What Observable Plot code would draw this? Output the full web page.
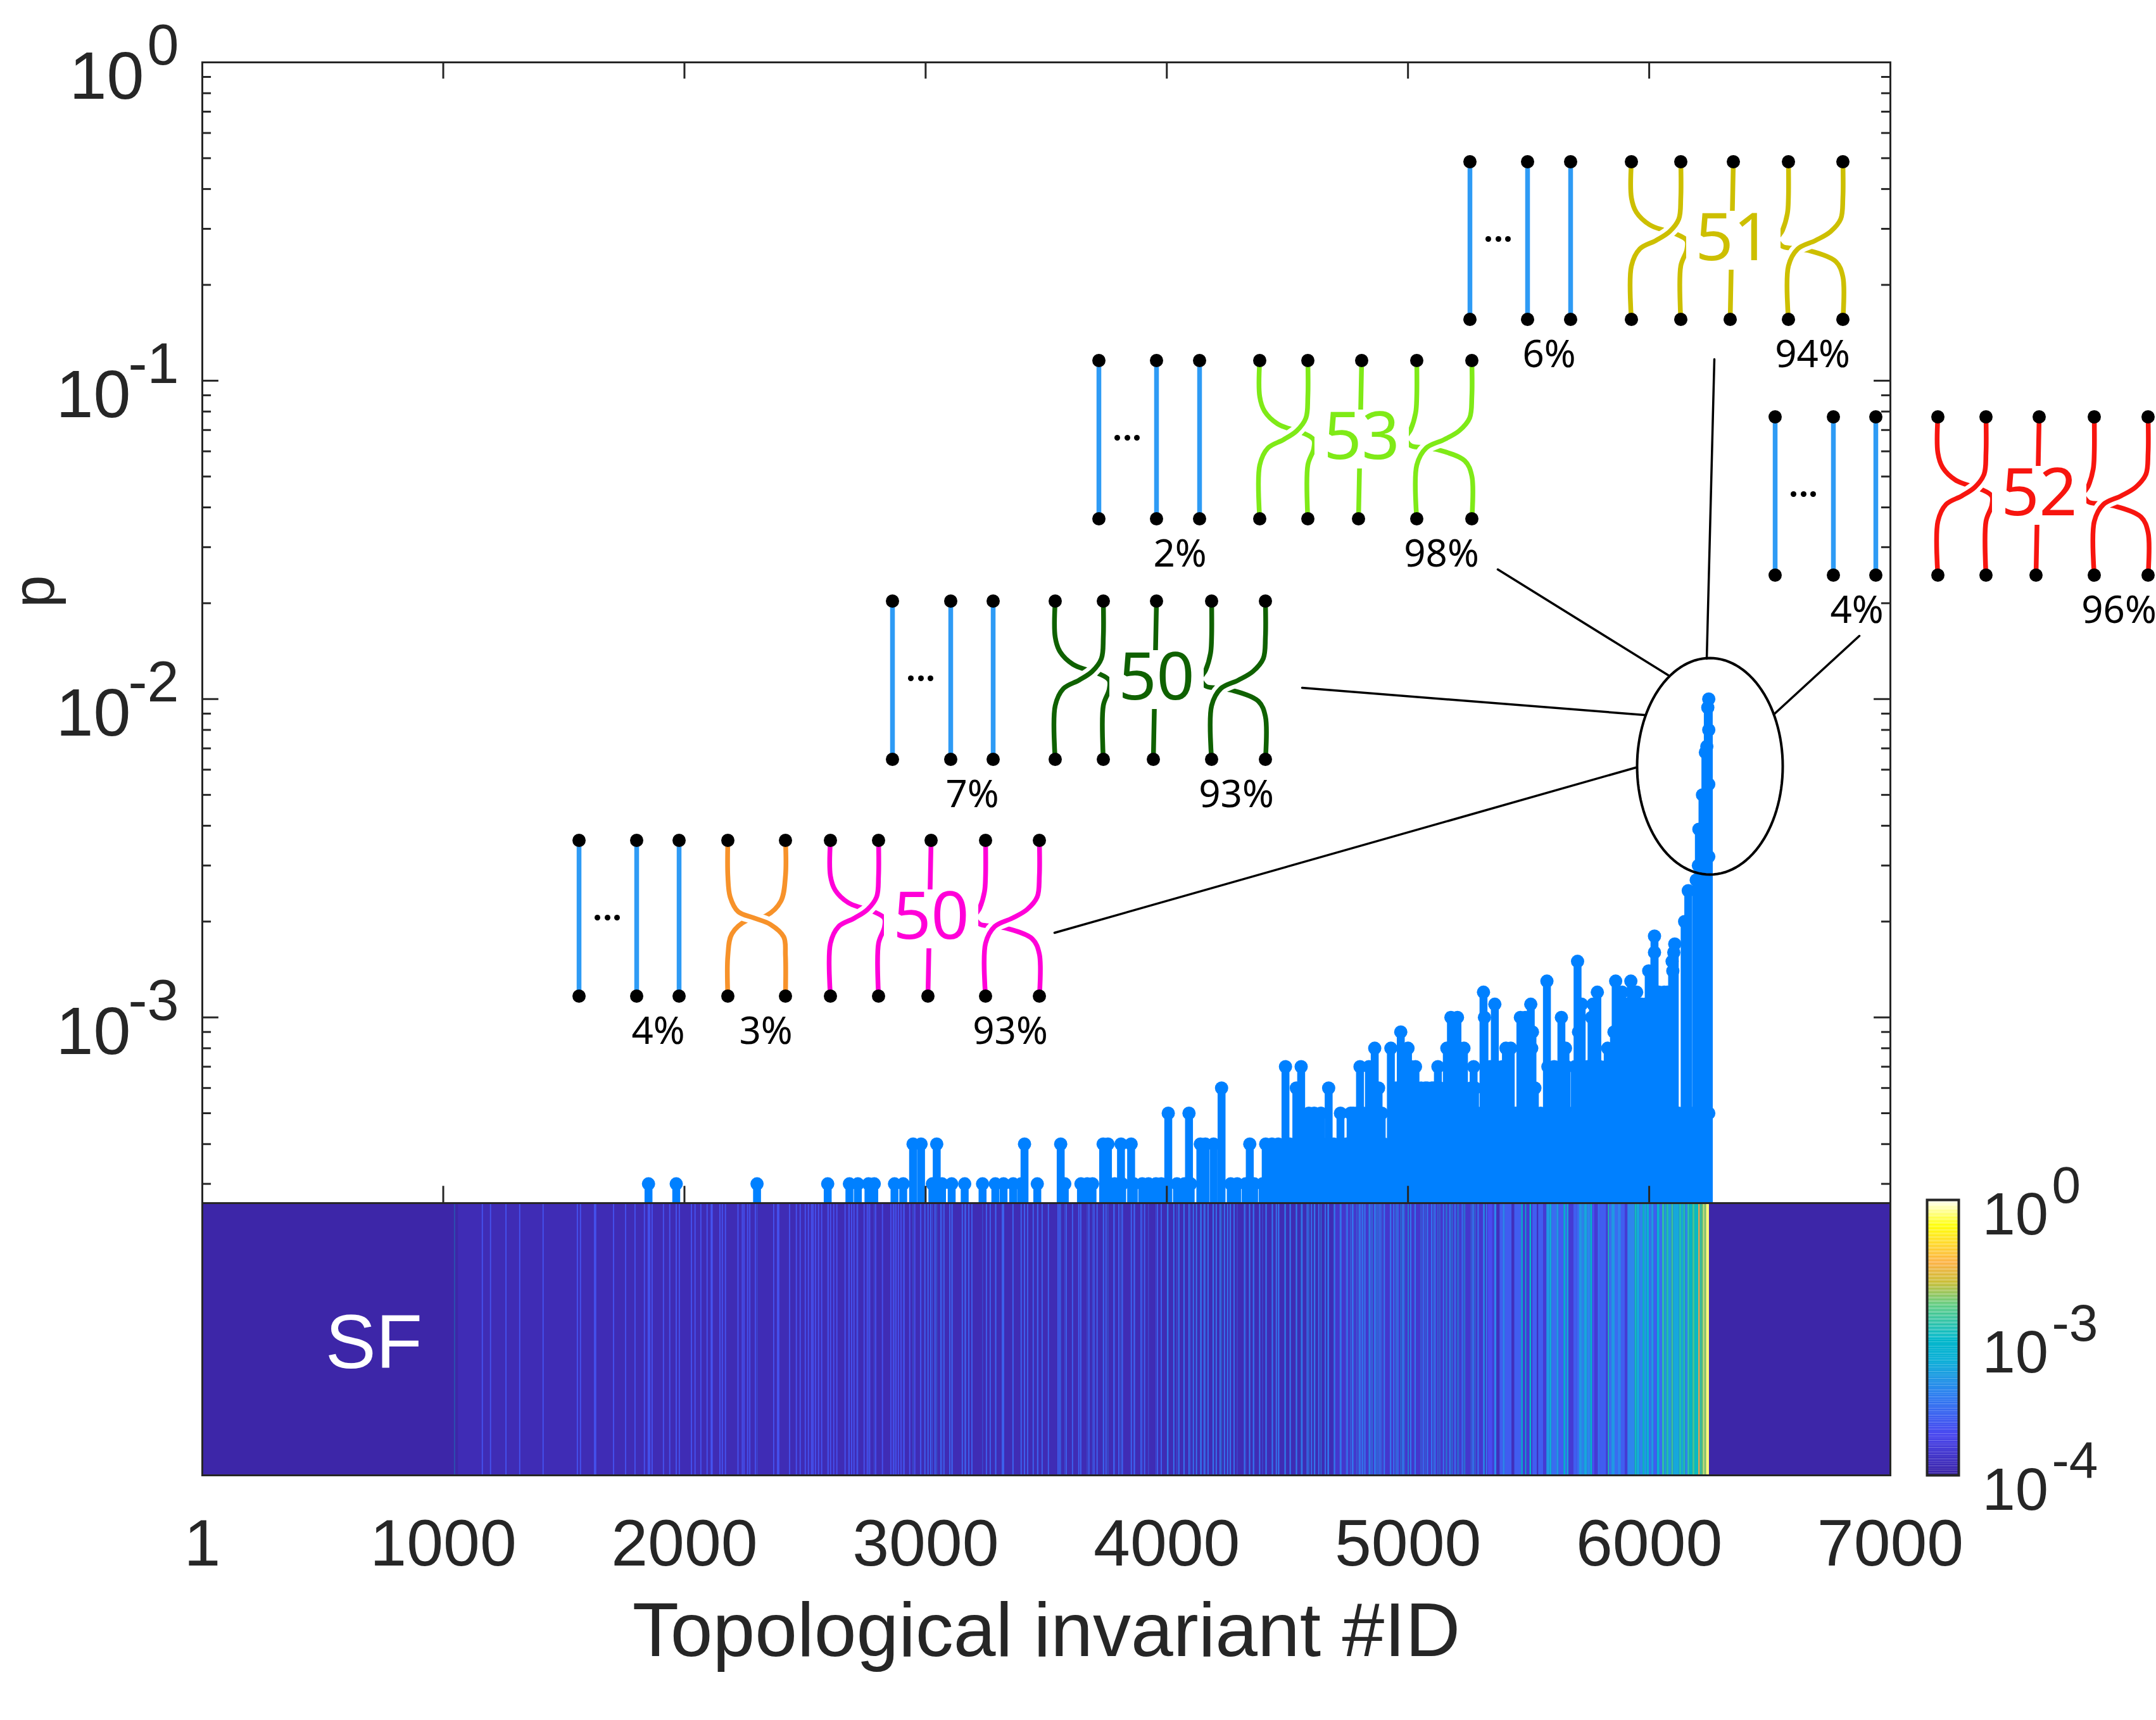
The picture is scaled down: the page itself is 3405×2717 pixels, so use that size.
<!DOCTYPE html>
<html>
<head>
<meta charset="utf-8">
<script src="https://cdn.jsdelivr.net/npm/d3@7"></script>
<script src="https://cdn.jsdelivr.net/npm/@observablehq/plot@0.6"></script>
<style>
  body { margin: 0; background: #fff; }
  #chart { position: relative; width: 3405px; height: 2717px; overflow: hidden; }
  #chart svg { position: absolute; left: 0; max-width: none; background: transparent; }
</style>
</head>
<body>
<div id="chart"></div>
<script>
// stems: invariant ids per probability level, p = level * 1e-4
const ids3 = [1851,1966,2301,2594,2684,2719,2763,2787,2871,2907,3028,3068,3108,3162,3236,3289,3323,3363,3396,3463,3577,3644,3670,3692,3784,3815,3863,3898,3924,3955,3977,4042,4073,4099,4265,4292,4327,4362,4397];
const ids4 = [2948,2981,3046,3410,3560,3736,3756,3810,3852,4139,4160,4194,4344,4410,4436,4462,4490,4510,4536,4562,4588,4614,4640,4666,4692,4718,4744,4770,4796,4822,4848,4874,4900,4926,4952];
const ids5 = [4006,4092,4589,4611,4639,4720,4762,4773,4788,4799,4814,4840,4866,4869,4891,5290,5316,5342,5368,5394,5420,5446,5472,5498,5524,5550,5576,5602,5628,5654,5680,5706,5732,5758,5784,5810,5836,5862,5888,5914,5940,5966,5992,6018,6044,6070,6096,6122,6148,6174,6200,6226,6247];
const ids6 = [4227,4537,4671,4852,4878,4950,4976,5002,5028,5054,5071,5080,5098,5106,5132,5158,5184,5210,5236,5262,5278,5526];
const ids7 = [4492,4557,4801,4838,4985,5012,5031,5124,5272,5340,5366,5392,5580,5606,5632,5653,5658,5692,5718,5744,5770,5796,5822,5848,5874];
const ids8 = [4862,4929,5000,5161,5232,5406,5426,5513,5653,5828];
const ids9 = [4970,5516,5707,5854];
const ids10 = [5178,5205,5317,5466,5486,5636,5761];
const ids11 = [5360,5509,5720,5767,5908,5934,5960,5968,5986,6012];
const ids12 = [5313,5785,5888,5948,6040,6062,6075];
const ids13 = [5576,5861,5924];
const ids14 = [5998,6098];
const ids15 = [5703,6095];
const ids16 = [6022,6102];
const ids17 = [6106];
const ids18 = [6022];
const spireIds = [6147,6162,6195,6204,6206,6221,6233,6239,6243,6247,6247,6247,6247];
const spireLevels = [20,25,27,30,39,50,68,71,94,100,80,54,32];

const faintIds = [1162,1196,1260,1317,1414,1556,1569,1627,1632,1706,1756,1795,1834,1850,1856,1866,1913,1939,1966,1979,2029,2044,2068,2094,2111,2115,2147,2157,2170,2222,2240,2247,2262,2271,2294,2370,2386,2391,2436,2464,2480,2501,2514,2527,2533,2543,2556,2569,2596,2606,2619,2632,2666,2682,2693,2703,2716,2745,2758,2768,2793,2821,2856,2866,2877,2887,2898,2911,2934,2955,2979];
const mediumIds = [2997,3010,3021,3039,3063,3076,3100,3110,3152,3165,3179,3192,3252,3268,3291,3318,3323,3362,3396,3410,3423,3446,3465,3483,3509,3549,3556,3583,3609,3635,3643,3677,3698,3711,3738,3748,3780,3801,3816,3853,3866,3893,3908,3961,3977];
const brightIds = [4003,4029,4050,4071,4092,4110,4123,4142,4155,4171,4192,4205,4221,4239,4252,4263,4279,4322,4343,4359,4385,4412,4438,4454,4464,4490,4512,4538,4560,4582,4600,4613,4630,4657,4670,4696,4722,4748,4770,4801,4810,4821,4842,4862,4884,4902,4928,4941,4958,4980,5011,5030,5063,5081,5098,5112,5147,5173,5195,5225,5269,5291,5313,5326,5357,5387,5409,5444];
const runStarts = [5333,5351,5359,5368,5381,5394,5403,5431,5442,5471,5477,5487,5492,5505,5512,5517,5536,5541,5562,5575,5589,5596,5617,5626,5646,5653,5660,5667,5687,5702,5711,5722,5731,5744,5757,5765,5775,5788,5797,5823,5830,5835,5845,5858,5871,5884,5900,5911,5941,5949,5961,5974,5981,5991,6000,6009,6020,6033,6044,6055,6064,6072,6081,6093,6101,6125,6134,6142,6151,6160,6169,6180,6189,6205,6211,6219,6226,6230,6237,6249];
const runLevels = [2,1.5,4,1.2,2.5,4,2.5,1.2,2.5,9,1.5,9,1.5,10,1.5,2.5,1.2,2.5,1.5,5,7,3,5,2.5,9,3,6,1.5,2.5,3,5,4,6,4,9,2,1.5,3,2.5,1.5,16,3,5,3,4,2.5,1.5,4,14,6,4,12,5,8,3,5,2.5,8,3,22,5,18,5,28,6,18,6,18,4,22,10,32,12,420,25,60,5000,70,5000];

// axes
const xTicks = [1,1000,2000,3000,4000,5000,6000,7000];
const yMajor = [1,0.1,0.01,0.001];
const yExponents = ["0","-1","-2","-3"];
const yMinor = [0.9,0.8,0.7,0.6,0.5,0.4,0.3,0.2,0.09,0.08,0.07,0.06,0.05,0.04,0.03,0.02,0.009,0.008,0.007,0.006,0.005,0.004,0.003,0.002,0.0009,0.0008,0.0007,0.0006,0.0005,0.0004,0.0003];
const yBottom = 2.61e-4;

// colour bar stops
const colorValues = [1e-4,1.94e-4,3.77e-4,6.65e-4,1e-3,5.06e-3,1.58e-2,4.27e-2,0.133,0.27,1];
const colorStops = ["#3d26a8","#4a48f0","#3080f0","#10b0d8","#00b8c8","#5ccc80","#c8bc30","#fdb040","#ffe020","#ffff00","#ffffff"];
const barTicks = [1,0.001,0.0001];
const barExponents = ["0","-3","-4"];

// wiring diagrams
const insets = [
  {num: "50", color: "#ff00d8", blue: [914,1005,1072], braid: [1311,1387,1470,1556,1641], top: 1327, bottom: 1573, labels: [["4%",1039],["93%",1595]]},
  {num: "50", color: "#0f6100", blue: [1409,1501,1568], braid: [1666,1742,1826,1913,1998], top: 949, bottom: 1199, labels: [["7%",1535],["93%",1952]]},
  {num: "53", color: "#7fea17", blue: [1735,1826,1894], braid: [1989,2065,2150,2237,2324], top: 569, bottom: 819, labels: [["2%",1863],["98%",2276]]},
  {num: "51", color: "#cdbf00", blue: [2321,2412,2480], braid: [2576,2654,2737,2824,2910], top: 255, bottom: 504, labels: [["6%",2446],["94%",2862]]},
  {num: "52", color: "#f7150f", blue: [2803,2895,2962], braid: [3060,3136,3220,3307,3392], top: 658, bottom: 908, labels: [["4%",2932],["96%",3346]]}
];
const orangePair = {color: "#f7922a", xs: [1149,1240], top: 1327, bottom: 1573, label: ["3%",1209]};
const callouts = [
  [[2707,567],[2695,1040]],
  [[2365,899],[2634,1066]],
  [[2936,1004],[2801,1128]],
  [[2056,1086],[2597,1129]],
  [[1665,1473],[2583,1212]]
];
// strand shapes as [fraction across the pair, fraction down the diagram]
const overShape = [[0,0],[0,0.228],[0.04,0.363],[0.23,0.444],[0.5,0.499],[0.83,0.553],[1,0.661],[1,1]];
const underLeftShape = [[0,0],[0,0.228],[0.1,0.32],[0.37,0.4],[0.67,0.436],[0.9,0.458],[1.12,0.5],[1.12,0.56],[1,0.66],[1,1]];
const underRightShape = [[0,0],[0,0.228],[-0.02,0.33],[-0.11,0.436],[-0.2,0.49],[-0.11,0.537],[0.09,0.55],[0.39,0.565],[0.87,0.633],[1,0.73],[1,1]];
const orangeOverShape = [[0,0],[0,0.228],[0.04,0.363],[0.18,0.458],[0.46,0.499],[0.74,0.54],[0.97,0.62],[1,0.74],[1,1]];
const orangeUnderShape = [[0,0],[0,0.228],[0.08,0.39],[0.34,0.485],[0.65,0.51],[0.93,0.6],[1,0.74],[1,1]];
const blueStrand = "#2e9bf5";
const stemBlue = "#0080ff";
const ink = "#262626";

const levelLists = [[3,ids3],[4,ids4],[5,ids5],[6,ids6],[7,ids7],[8,ids8],[9,ids9],[10,ids10],[11,ids11],[12,ids12],[13,ids13],[14,ids14],[15,ids15],[16,ids16],[17,ids17],[18,ids18]];
const stems = levelLists.flatMap(([lv, ids]) => ids.map(id => ({id, p: lv * 1e-4})))
  .concat(spireIds.map((id, i) => ({id, p: spireLevels[i] * 1e-4})));
const stripes = faintIds.map(id => ({id, p: 2.2e-4}))
  .concat(mediumIds.map(id => ({id, p: 2.7e-4})))
  .concat(brightIds.map(id => ({id, p: 3.4e-4})));
const runs = runLevels.map((lv, i) => ({x1: runStarts[i], x2: runStarts[i + 1], p: lv * 1e-4}));
const chart = document.querySelector("#chart");
const font = "'Liberation Sans', Arial, sans-serif";
const colorScale = {type: "log", domain: colorValues, range: colorStops};

function place(svg, y) {
  svg.style.top = y + "px";
  chart.append(svg);
}

// upper panel
const tickRule = {stroke: ink, strokeWidth: 3};
const upper = Plot.plot({
  width: 3405, height: 1905,
  marginLeft: 319, marginRight: 420, marginTop: 98, marginBottom: 5,
  style: {fontFamily: font},
  x: {domain: [1, 7000], axis: null},
  y: {type: "log", domain: [yBottom, 1], axis: null},
  marks: [
    Plot.ruleX(stems, {x: "id", y1: yBottom, y2: "p", stroke: stemBlue, strokeWidth: 12.5}),
    Plot.dot(stems, {x: "id", y: "p", r: 10.5, fill: stemBlue}),
    Plot.ruleY(yMajor, {x1: 1, x2: 69, ...tickRule}),
    Plot.ruleY(yMajor, {x1: 6932, x2: 7000, ...tickRule}),
    Plot.ruleY(yMinor, {x1: 1, x2: 38, ...tickRule}),
    Plot.ruleY(yMinor, {x1: 6963, x2: 7000, ...tickRule}),
    Plot.ruleX(xTicks, {y1: 1, y2: 0.887, ...tickRule}),
    Plot.ruleX(xTicks, {y1: yBottom, y2: 2.95e-4, ...tickRule}),
    Plot.frame({stroke: ink, strokeWidth: 3}),
    Plot.text(yMajor.slice(0, 1), {x: 1, y: d => d, text: () => "10", textAnchor: "end", dx: -92, dy: 24, fontSize: 106, fill: ink}),
    Plot.text(yMajor.slice(1), {x: 1, y: d => d, text: () => "10", textAnchor: "end", dx: -113, dy: 24, fontSize: 106, fill: ink}),
    Plot.text(yMajor, {x: 1, y: d => d, text: (d, i) => yExponents[i], textAnchor: "end", dx: -37, dy: -25, fontSize: 90, fill: ink}),
    Plot.text(["p"], {x: 1, y: 0.0218, dx: -264, rotate: -90, fontSize: 92, fill: ink})
  ]
});
place(upper, 0);

// SF strip with the x axis
const strip = Plot.plot({
  width: 3405, height: 819,
  marginLeft: 319, marginRight: 420, marginTop: 2, marginBottom: 387,
  style: {fontFamily: font},
  x: {domain: [1, 7000], axis: null},
  color: colorScale,
  marks: [
    Plot.rect([{x1: 1, x2: 7000, p: 1e-4}], {x1: "x1", x2: "x2", fill: "p"}),
    Plot.rect([{x1: 1062, x2: 6249, p: 1.13e-4}], {x1: "x1", x2: "x2", fill: "p"}),
    Plot.rect([{x1: 4700, x2: 5333, p: 1.4e-4}], {x1: "x1", x2: "x2", fill: "p"}),
    Plot.ruleX([1047], {stroke: "#2c4fb0", strokeWidth: 2}),
    Plot.ruleX(stems.filter(d => d.id < 5333), {x: "id", stroke: "p", strokeWidth: 1.2, strokeOpacity: 0.55}),
    Plot.ruleX(stripes, {x: "id", stroke: "p", strokeWidth: 1.8}),
    Plot.rect(runs, {x1: "x1", x2: "x2", fill: "p"}),
    Plot.frame({stroke: ink, strokeWidth: 3}),
    Plot.axisX(xTicks, {anchor: "bottom", tickSize: 0, tickPadding: 69, fontSize: 104, tickFormat: d => String(d), label: null, color: ink}),
    Plot.text(["Topological invariant #ID"], {frameAnchor: "bottom", dy: 285, fontSize: 120, fill: ink}),
    Plot.text(["SF"], {x: () => 712, frameAnchor: "left", textAnchor: "middle", dy: 7, fontSize: 120, fill: "#ffffff"})
  ]
});
place(strip, 1898);

// colour bar
const barEdges = d3.range(0, 240).map(i => 1e-4 * Math.pow(10, 4 * i / 239));
const bar = Plot.plot({
  width: 3405, height: 2717,
  marginLeft: 3043, marginRight: 312, marginTop: 1895, marginBottom: 387,
  style: {fontFamily: font},
  y: {type: "log", domain: [1e-4, 1e-3, 1], range: [2330, 2113, 1895], axis: null},
  color: colorScale,
  marks: [
    Plot.rect(d3.pairs(barEdges), {y1: d => d[0], y2: d => d[1], fill: d => d[0]}),
    Plot.frame({stroke: ink, strokeWidth: 4}),
    Plot.text(barTicks, {y: d => d, text: () => "10", frameAnchor: "right", textAnchor: "start", dx: 37, dy: 24, fontSize: 94, fill: ink}),
    Plot.text(barTicks, {y: d => d, text: (d, i) => barExponents[i], frameAnchor: "right", textAnchor: "start", dx: 147, dy: -22, fontSize: 82, fill: ink})
  ]
});
place(bar, 0);

// wiring diagrams as one overlay in page pixels
function strand(shape, xa, xb, t, b) {
  return shape.map(d => ({x: xa + d[0] * (xb - xa), y: t + d[1] * (b - t)}));
}
let key = 0;
const under = [], over = [], straight = [], nodes = [], numbers = [], masks = [], percents = [], ellipsis = [];
function addLine(list, pts, color) {
  key++;
  pts.forEach(p => list.push({...p, key, color}));
}
for (const s of insets) {
  const [c0, c1, c2, c3, c4] = s.braid;
  s.blue.forEach(x => {
    addLine(straight, [{x, y: s.top}, {x, y: s.bottom}], blueStrand);
    nodes.push({x, y: s.top}, {x, y: s.bottom});
  });
  addLine(straight, [{x: c2, y: s.top}, {x: c2 - 5, y: s.bottom}], s.color);
  addLine(under, strand(underLeftShape, c0, c1, s.top, s.bottom), s.color);
  addLine(over, strand(overShape, c1, c0, s.top, s.bottom), s.color);
  addLine(under, strand(underRightShape, c3, c4, s.top, s.bottom), s.color);
  addLine(over, strand(overShape, c4, c3, s.top, s.bottom), s.color);
  s.braid.forEach((x, i) => {
    nodes.push({x, y: s.top}, {x: i === 2 ? x - 5 : x, y: s.bottom});
  });
  masks.push({x1: c2 - 74, x2: c2 + 75, y1: s.top + 78, y2: s.top + 171});
  numbers.push({x: c2, y: s.top + 122, text: s.num, color: s.color});
  s.labels.forEach(([text, x]) => percents.push({x, y: s.bottom + 56, text}));
  [29, 45, 60].forEach(d => ellipsis.push({x: s.blue[0] + d, y: s.top + 122}));
}
{
  const o = orangePair;
  addLine(under, strand(orangeUnderShape, o.xs[1], o.xs[0], o.top, o.bottom), o.color);
  addLine(over, strand(orangeOverShape, o.xs[0], o.xs[1], o.top, o.bottom), o.color);
  o.xs.forEach(x => nodes.push({x, y: o.top}, {x, y: o.bottom}));
  percents.push({x: o.label[1], y: o.bottom + 56, text: o.label[0]});
}
const loop = d3.range(0, 121).map(i => ({
  x: 2700 + 115 * Math.cos(i / 120 * 2 * Math.PI),
  y: 1210 + 171 * Math.sin(i / 120 * 2 * Math.PI)
}));
const calloutRows = callouts.flatMap((c, i) => c.map(p => ({x: p[0], y: p[1], i})));
const diagrams = Plot.plot({
  width: 3405, height: 2717, margin: 0,
  style: {fontFamily: "'Noto Sans', sans-serif"},
  x: {type: "identity", axis: null},
  y: {type: "identity", axis: null},
  color: {type: "identity"},
  marks: [
    Plot.line(loop, {x: "x", y: "y", stroke: "#000", strokeWidth: 4}),
    Plot.line(calloutRows, {x: "x", y: "y", z: "i", stroke: "#000", strokeWidth: 3.5}),
    Plot.line(straight, {x: "x", y: "y", z: "key", stroke: "color", strokeWidth: 7.5}),
    Plot.line(under, {x: "x", y: "y", z: "key", stroke: "color", strokeWidth: 7.5, curve: "catmull-rom"}),
    Plot.line(over, {x: "x", y: "y", z: "key", stroke: "#fff", strokeWidth: 20, curve: "catmull-rom"}),
    Plot.line(over, {x: "x", y: "y", z: "key", stroke: "color", strokeWidth: 7.5, curve: "catmull-rom"}),
    Plot.rect(masks, {x1: "x1", x2: "x2", y1: "y1", y2: "y2", fill: "#fff"}),
    Plot.text(numbers, {x: "x", y: "y", text: "text", fill: "color", fontSize: 105}),
    Plot.text(percents, {x: "x", y: "y", text: "text", fill: "#000", fontSize: 60}),
    Plot.dot(nodes, {x: "x", y: "y", r: 10.5, fill: "#000"}),
    Plot.dot(ellipsis, {x: "x", y: "y", r: 4.5, fill: "#000"})
  ]
});
place(diagrams, 0);
</script>
</body>
</html>
